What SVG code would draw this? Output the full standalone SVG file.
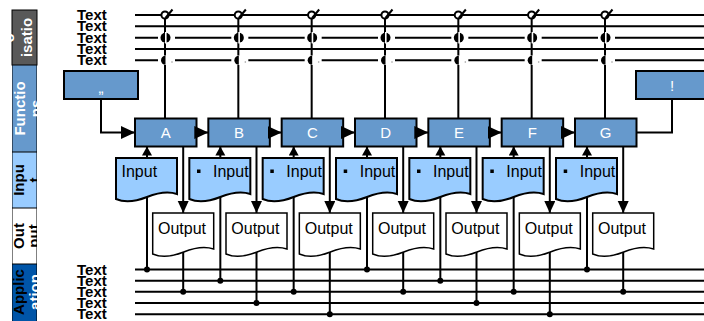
<svg xmlns="http://www.w3.org/2000/svg" xmlns:xlink="http://www.w3.org/1999/xlink" width="704" height="321" viewBox="0 0 704 321">
<style>
.lane{stroke:#000;stroke-width:1}
.lt{font-family:"Liberation Sans",Arial,sans-serif;font-weight:bold;font-size:15px;text-anchor:middle}
.lbl{font-family:"Liberation Sans",Arial,sans-serif;font-weight:bold;font-size:15px;fill:#000}
.box{fill:#6699cc;stroke:#000;stroke-width:2}
.bt{font-family:"Liberation Sans",Arial,sans-serif;font-size:15px;fill:#fff;text-anchor:middle}
.in{fill:#99ccff;stroke:#000;stroke-width:2}
.out{fill:#fff;stroke:#000;stroke-width:1.5}
.dt{font-family:"Liberation Sans",Arial,sans-serif;font-size:16px;fill:#000}
.ln{stroke:#000;stroke-width:2;fill:none}
.dot{fill:#000}
</style>
<defs>
<path id="doc" d="M0,0 H61 V36 C52,33 41,35 31,39 C21,43 9,45 0,41 Z"/>
<marker id="arr" markerUnits="userSpaceOnUse" markerWidth="15" markerHeight="14" refX="14" refY="6.5" orient="auto"><path d="M0,0 L14,6.5 L0,13 Z" fill="#000"/></marker>
<marker id="arrm" markerUnits="userSpaceOnUse" markerWidth="13" markerHeight="12" refX="12" refY="5.5" orient="auto"><path d="M0,0 L12,5.5 L0,11 Z" fill="#000"/></marker>
<marker id="arrs" markerUnits="userSpaceOnUse" markerWidth="10" markerHeight="11" refX="9" refY="5" orient="auto"><path d="M0,0 L9,5 L0,10 Z" fill="#000"/></marker>
<clipPath id="c1"><rect x="12" y="10" width="25" height="55"/></clipPath>
<clipPath id="c2"><rect x="12" y="65" width="25" height="87"/></clipPath>
<clipPath id="c3"><rect x="12" y="152" width="25" height="56"/></clipPath>
<clipPath id="c4"><rect x="12" y="208" width="25" height="56"/></clipPath>
<clipPath id="c5"><rect x="12" y="264" width="25" height="58"/></clipPath>
</defs>
<rect width="704" height="321" fill="#fff"/>

<g id="lanes">
<g id="lane-org">
<rect class="lane" x="12" y="10" width="25" height="55" fill="#595959"/>
<text class="lt" fill="#fff" transform="translate(14,38) rotate(-90)">o</text>
<g clip-path="url(#c1)"><text class="lt" fill="#fff" transform="translate(31.5,37.5) rotate(-90)">isatio</text></g>
</g>
<g id="lane-functions" clip-path="url(#c2)">
<rect class="lane" x="12" y="65" width="25" height="87" fill="#6699cc"/>
<text class="lt" fill="#fff" transform="translate(24.5,108.5) rotate(-90)">Functio</text>
<text class="lt" fill="#fff" transform="translate(40.5,108.5) rotate(-90)">ns</text>
</g>
<g id="lane-input" clip-path="url(#c3)">
<rect class="lane" x="12" y="152" width="25" height="56" fill="#99ccff"/>
<text class="lt" fill="#000" transform="translate(24,180) rotate(-90)">Inpu</text>
<text class="lt" fill="#000" transform="translate(40,180) rotate(-90)">t</text>
</g>
<g id="lane-output" clip-path="url(#c4)">
<rect class="lane" x="12" y="208" width="25" height="56" fill="#fff"/>
<text class="lt" fill="#000" transform="translate(24,236) rotate(-90)">Out</text>
<text class="lt" fill="#000" transform="translate(39,236) rotate(-90)">put</text>
</g>
<g id="lane-application" clip-path="url(#c5)">
<rect class="lane" x="12" y="264" width="25" height="58" fill="#0055a8"/>
<text class="lt" fill="#000" transform="translate(24,292) rotate(-90)">Applic</text>
<text class="lt" fill="#fff" transform="translate(40,292) rotate(-90)">ation</text>
</g>
</g>

<g id="labels">
<text class="lbl" x="77" y="20">Text</text>
<text class="lbl" x="77" y="31.3">Text</text>
<text class="lbl" x="77" y="42.7">Text</text>
<text class="lbl" x="77" y="54">Text</text>
<text class="lbl" x="77" y="65.3">Text</text>
<text class="lbl" x="77" y="274.5">Text</text>
<text class="lbl" x="77" y="285.7">Text</text>
<text class="lbl" x="77" y="296.7">Text</text>
<text class="lbl" x="77" y="308">Text</text>
<text class="lbl" x="77" y="319.3">Text</text>
</g>

<g id="nodes">
<g id="start"><rect class="box" x="64" y="71" width="74" height="28"/><text class="bt" x="101" y="93" font-size="12">„</text></g>
<g id="end"><rect class="box" x="636" y="71" width="72" height="28"/><text class="bt" x="672" y="91">!</text></g>

<g id="box-A"><rect class="box" x="135" y="118.5" width="61.5" height="28"/><text class="bt" x="165.7" y="138">A</text></g>
<g id="box-B"><rect class="box" x="208.33" y="118.5" width="61.5" height="28"/><text class="bt" x="239" y="138">B</text></g>
<g id="box-C"><rect class="box" x="281.67" y="118.5" width="61.5" height="28"/><text class="bt" x="312.4" y="138">C</text></g>
<g id="box-D"><rect class="box" x="355" y="118.5" width="61.5" height="28"/><text class="bt" x="385.7" y="138">D</text></g>
<g id="box-E"><rect class="box" x="428.33" y="118.5" width="61.5" height="28"/><text class="bt" x="459" y="138">E</text></g>
<g id="box-F"><rect class="box" x="501.67" y="118.5" width="61.5" height="28"/><text class="bt" x="532.4" y="138">F</text></g>
<g id="box-G"><rect class="box" x="575" y="118.5" width="61.5" height="28"/><text class="bt" x="605.7" y="138">G</text></g>

<g id="in-A"><use xlink:href="#doc" class="in" x="116" y="158"/><text class="dt" x="121.5" y="177">Input</text></g>
<g id="in-B"><use xlink:href="#doc" class="in" x="189.33" y="158"/><rect x="197" y="169.5" width="3.5" height="3.5"/><text class="dt" x="213" y="177">Input</text></g>
<g id="in-C"><use xlink:href="#doc" class="in" x="262.67" y="158"/><rect x="270.3" y="169.5" width="3.5" height="3.5"/><text class="dt" x="286.3" y="177">Input</text></g>
<g id="in-D"><use xlink:href="#doc" class="in" x="336" y="158"/><rect x="343.7" y="169.5" width="3.5" height="3.5"/><text class="dt" x="359.7" y="177">Input</text></g>
<g id="in-E"><use xlink:href="#doc" class="in" x="409.33" y="158"/><rect x="417" y="169.5" width="3.5" height="3.5"/><text class="dt" x="433" y="177">Input</text></g>
<g id="in-F"><use xlink:href="#doc" class="in" x="482.67" y="158"/><rect x="490.3" y="169.5" width="3.5" height="3.5"/><text class="dt" x="506.3" y="177">Input</text></g>
<g id="in-G"><use xlink:href="#doc" class="in" x="556" y="158"/><rect x="563.7" y="169.5" width="3.5" height="3.5"/><text class="dt" x="579.7" y="177">Input</text></g>

<g id="out-A"><use xlink:href="#doc" class="out" x="152.7" y="213"/><text class="dt" x="158" y="233.5">Output</text></g>
<g id="out-B"><use xlink:href="#doc" class="out" x="226" y="213"/><text class="dt" x="231.3" y="233.5">Output</text></g>
<g id="out-C"><use xlink:href="#doc" class="out" x="299.33" y="213"/><text class="dt" x="304.7" y="233.5">Output</text></g>
<g id="out-D"><use xlink:href="#doc" class="out" x="372.7" y="213"/><text class="dt" x="378" y="233.5">Output</text></g>
<g id="out-E"><use xlink:href="#doc" class="out" x="446" y="213"/><text class="dt" x="451.3" y="233.5">Output</text></g>
<g id="out-F"><use xlink:href="#doc" class="out" x="519.33" y="213"/><text class="dt" x="524.7" y="233.5">Output</text></g>
<g id="out-G"><use xlink:href="#doc" class="out" x="592.7" y="213"/><text class="dt" x="598" y="233.5">Output</text></g>
</g>

<g id="connectors">
<path class="ln" d="M135,15 H704 M135,26.3 H704 M135,37.7 H704 M135,49 H704 M135,60.3 H704"/>
<path class="ln" d="M135,269.5 H704 M135,280.7 H704 M135,291.7 H704 M135,303 H704 M135,314.3 H704"/>
<path class="ln" d="M165,15 V118.5 M238.33,15 V118.5 M311.67,15 V118.5 M385,15 V118.5 M458.33,15 V118.5 M531.67,15 V118.5 M605,15 V118.5"/>
<path class="ln" d="M101,99 V132.5 H135" marker-end="url(#arr)"/>
<path class="ln" d="M636.5,132.5 H672 V99"/>
<path class="ln" d="M196.5,132.5 H208.33" marker-end="url(#arr)"/>
<path class="ln" d="M269.83,132.5 H281.67" marker-end="url(#arr)"/>
<path class="ln" d="M343.17,132.5 H355" marker-end="url(#arr)"/>
<path class="ln" d="M416.5,132.5 H428.33" marker-end="url(#arr)"/>
<path class="ln" d="M489.83,132.5 H501.67" marker-end="url(#arr)"/>
<path class="ln" d="M563.17,132.5 H575" marker-end="url(#arr)"/>
<path class="ln" d="M147,158 V146.5" marker-end="url(#arrs)"/>
<path class="ln" d="M220.33,158 V146.5" marker-end="url(#arrs)"/>
<path class="ln" d="M293.67,158 V146.5" marker-end="url(#arrs)"/>
<path class="ln" d="M367,158 V146.5" marker-end="url(#arrs)"/>
<path class="ln" d="M440.33,158 V146.5" marker-end="url(#arrs)"/>
<path class="ln" d="M513.67,158 V146.5" marker-end="url(#arrs)"/>
<path class="ln" d="M587,158 V146.5" marker-end="url(#arrs)"/>
<path class="ln" d="M183.2,146.5 V213" marker-end="url(#arrm)"/>
<path class="ln" d="M256.5,146.5 V213" marker-end="url(#arrm)"/>
<path class="ln" d="M329.8,146.5 V213" marker-end="url(#arrm)"/>
<path class="ln" d="M403.2,146.5 V213" marker-end="url(#arrm)"/>
<path class="ln" d="M476.5,146.5 V213" marker-end="url(#arrm)"/>
<path class="ln" d="M549.8,146.5 V213" marker-end="url(#arrm)"/>
<path class="ln" d="M623.2,146.5 V213" marker-end="url(#arrm)"/>
<path class="ln" d="M147,197 V269.5 M220.33,197 V280.7 M293.67,197 V291.7 M367,197 V269.5 M440.33,197 V280.7 M513.67,197 V291.7 M587,197 V269.5"/>
<path class="ln" d="M183.2,252 V291.7 M256.5,252 V303 M329.8,252 V314.3 M403.2,252 V291.7 M476.5,252 V303 M549.8,252 V314.3 M623.2,252 V291.7"/>
<g class="dot">
<circle cx="147" cy="269.5" r="3"/><circle cx="220.33" cy="280.7" r="3"/><circle cx="293.67" cy="291.7" r="3"/><circle cx="367" cy="269.5" r="3"/><circle cx="440.33" cy="280.7" r="3"/><circle cx="513.67" cy="291.7" r="3"/><circle cx="587" cy="269.5" r="3"/>
<circle cx="183.2" cy="291.7" r="3"/><circle cx="256.5" cy="303" r="3"/><circle cx="329.8" cy="314.3" r="3"/><circle cx="403.2" cy="291.7" r="3"/><circle cx="476.5" cy="303" r="3"/><circle cx="549.8" cy="314.3" r="3"/><circle cx="623.2" cy="291.7" r="3"/>
</g>
<g id="marks">
<g id="mk" transform="translate(165,0)">
<circle cx="0" cy="15" r="3.6" fill="#fff" stroke="#000" stroke-width="2"/>
<path d="M0.5,18 L7.5,9.5" stroke="#000" stroke-width="2"/>
<rect x="-7" y="33" width="17" height="9.5" fill="#fff"/>
<circle cx="0.5" cy="37.7" r="5" fill="#000"/>
<rect x="0" y="32" width="1.6" height="11.5" fill="#fff"/>
<rect x="-7" y="55.5" width="17" height="9.5" fill="#fff"/>
<path d="M0.5,55.8 A4.5,4.5 0 0 0 0.5,64.8 Z" fill="#000"/>
<circle cx="7" cy="62" r="0.8" fill="#999"/>
</g>
<use xlink:href="#mk" x="73.33"/>
<use xlink:href="#mk" x="146.67"/>
<use xlink:href="#mk" x="220"/>
<use xlink:href="#mk" x="293.33"/>
<use xlink:href="#mk" x="366.67"/>
<use xlink:href="#mk" x="440"/>
</g>
</g>
</svg>
